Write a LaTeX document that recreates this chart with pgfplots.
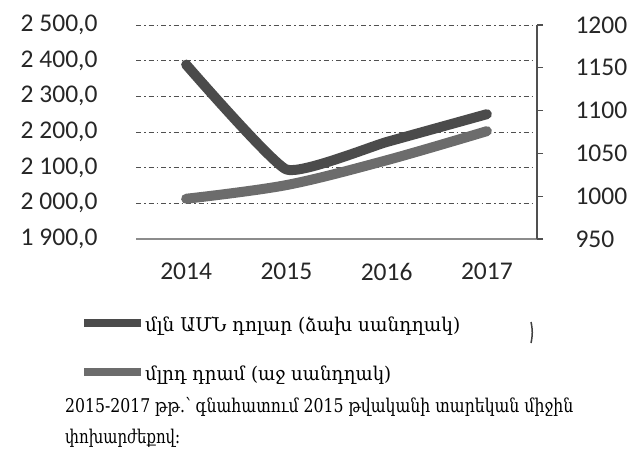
\documentclass[border=0pt]{standalone}
\usepackage{fontspec}
\setmainfont{Carlito}
\newfontfamily\arm{DejaVu Serif}
\usepackage{graphicx}
\usepackage{pgfplots}
\pgfplotsset{compat=1.18}
\definecolor{darkline}{HTML}{4B4B4B}
\definecolor{lightline}{HTML}{6C6C6C}
\definecolor{gridc}{HTML}{505050}
\begin{document}
\begin{tikzpicture}
\path[use as bounding box] (0,0) rectangle (633bp,-457bp);
\begin{axis}[
  at={(136bp,-239bp)}, anchor=south west,
  scale only axis, width=401bp, height=214bp,
  xmin=-0.5, xmax=3.5, ymin=1900, ymax=2500,
  xtick={0,1,2,3}, xticklabels={2014,2015,2016,2017},
  ytick={1900,2000,...,2500},
  yticklabels={{1 900,0},{2 000,0},{2 100,0},{2 200,0},{2 300,0},{2 400,0},{2 500,0}},
  /pgf/number format/assume math mode=true,
  axis x line*=bottom, axis y line*=left,
  y axis line style={draw=none},
  x axis line style={draw=black!45, line width=2bp, -},
  major tick length=0pt,
  ymajorgrids,
  major grid style={gridc, line width=1bp, dash pattern=on 5bp off 3bp on 1.5bp off 3bp},
  ticklabel style={font=\fontsize{25.6}{26}\selectfont, text=black!85},
  yticklabel style={xshift=-35bp},
  xticklabel style={yshift=-20.5bp},
  clip=false,
]
\addplot[darkline, line width=10bp, line join=round, line cap=round, smooth, tension=0.25]
  coordinates {(0,2389) (1,2095) (2,2172) (3,2250)};
\end{axis}
\begin{axis}[
  at={(136bp,-239bp)}, anchor=south west,
  scale only axis, width=401bp, height=214bp,
  xmin=-0.5, xmax=3.5, ymin=950, ymax=1200,
  axis x line=none, axis y line*=right,
  y axis line style={draw=gridc, line width=1.3bp, -},
  ytick={950,1000,...,1200},
  yticklabels={950,1000,1050,1100,1150,1200},
  /pgf/number format/assume math mode=true,
  ytick style={draw=gridc, line width=1.3bp},
  major tick length=6bp, tick align=outside,
  ticklabel style={font=\fontsize{25.6}{26}\selectfont, text=black!85},
  yticklabel style={xshift=29bp},
  clip=false,
  legend style={at={(axis description cs:0,0)}, anchor=north west,
    xshift=-56bp, yshift=-77.5bp, draw=none, fill=none, inner sep=0pt,
    row sep={49bp,between origins}, column sep=0pt,
    nodes={inner sep=0pt, font=\arm\fontsize{19}{22}\selectfont}},
  legend cell align=left,
  legend image code/.code={\draw[#1, line width=8bp, line cap=butt] (0bp,2bp) -- (57bp,2bp);},
]
\addlegendimage{darkline}
\addlegendentry{\resizebox{315bp}{\height}{մլն ԱՄՆ դոլար (ձախ սանդղակ)}}
\addplot[lightline, line width=10bp, line join=round, line cap=round, smooth, tension=0.55]
  coordinates {(0,997) (1,1013) (2,1042) (3,1076)};
\addlegendentry{\resizebox{246bp}{\height}{մլրդ դրամ (աջ սանդղակ)}}
\end{axis}
\node[anchor=base west, inner sep=0pt, font=\arm\fontsize{19}{22}\selectfont] at (65bp,-412bp) {\resizebox{508bp}{\height}{2015-2017 թթ.՝ գնահատում 2015 թվականի տարեկան միջին}};
\node[anchor=base west, inner sep=0pt, font=\arm\fontsize{19}{22}\selectfont] at (65bp,-443bp) {\resizebox{115bp}{\height}{փոխարժեքով։}};
\draw[black!75, line width=1.5bp] (531bp,-322bp) to[bend left=12] (531bp,-343bp);
\end{tikzpicture}
\end{document}
